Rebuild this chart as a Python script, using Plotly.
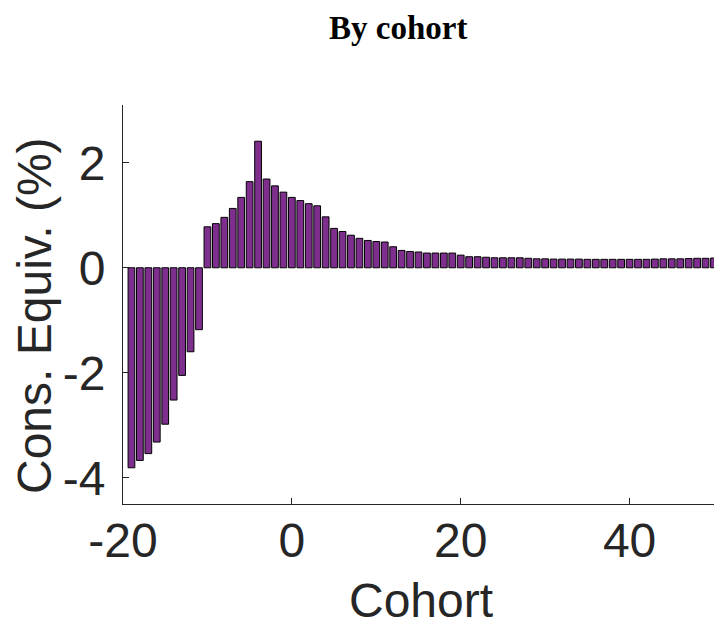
import plotly.graph_objects as go

cohorts = list(range(-19, 51))
cons_equiv = [
    -3.81, -3.67, -3.54, -3.32, -2.98, -2.52, -2.05, -1.60, -1.18,   # -19..-11
    0.78, 0.84, 0.96, 1.13, 1.34, 1.64, 2.41, 1.69, 1.56, 1.44,      # -10..-1
    1.34, 1.28, 1.22, 1.18, 0.97, 0.75, 0.69, 0.62, 0.56, 0.52,      # 0..9
    0.50, 0.49, 0.40, 0.33, 0.31, 0.30, 0.28, 0.28, 0.28, 0.28,      # 10..19
    0.24, 0.21, 0.21, 0.20, 0.19, 0.19, 0.19, 0.19, 0.18, 0.17,      # 20..29
    0.17, 0.165, 0.165, 0.165, 0.165, 0.16, 0.16, 0.16, 0.16, 0.16,  # 30..39
    0.16, 0.16, 0.16, 0.165, 0.17, 0.17, 0.17, 0.175, 0.18, 0.18,    # 40..49
    0.185,                                                           # 50
]
x_ticks = [-20, 0, 20, 40]
y_ticks = [-4, -2, 0, 2]

title_text = "By cohort"
x_label = "Cohort"
y_label = "Cons. Equiv. (%)"

W, H = 714, 628
L, R, T, B = 123, 0, 105, 124

fig = go.Figure(
    go.Bar(
        x=cohorts,
        y=cons_equiv,
        width=0.8,
        marker=dict(color="#7E2F8E", line=dict(color="#000000", width=1)),
    )
)

axis_color = "#262626"
pw, ph = W - L - R, H - T - B
fig.update_layout(
    width=W,
    height=H,
    margin=dict(l=L, r=R, t=T, b=B, pad=0),
    plot_bgcolor="white",
    paper_bgcolor="white",
    showlegend=False,
    font=dict(family="Liberation Sans, Arial, sans-serif", color=axis_color),
    xaxis=dict(
        range=[-20, 50],
        tickvals=x_ticks,
        ticktext=[str(v) for v in x_ticks],
        ticks="inside",
        ticklen=6,
        tickcolor=axis_color,
        showline=True,
        linecolor=axis_color,
        linewidth=1,
        showgrid=False,
        zeroline=False,
        ticklabelstandoff=-6,
        tickfont=dict(size=48, color=axis_color),
    ),
    yaxis=dict(
        range=[-4.5, 3.1],
        tickvals=y_ticks,
        ticktext=[str(v) for v in y_ticks],
        ticks="inside",
        ticklen=6,
        tickcolor=axis_color,
        showline=True,
        linecolor=axis_color,
        linewidth=1,
        showgrid=False,
        zeroline=False,
        ticklabelstandoff=7,
        tickfont=dict(size=48, color=axis_color),
    ),
    annotations=[
        dict(
            text="<b>" + title_text + "</b>",
            xref="paper", yref="paper",
            x=(398 - L) / pw, y=1 + (T - 28) / ph,
            xanchor="center", yanchor="middle",
            showarrow=False,
            font=dict(family="Liberation Serif, serif", size=33, color="#000000"),
        ),
        dict(
            text=x_label,
            xref="paper", yref="paper",
            x=(421 - L) / pw, y=-(600 - (H - B)) / ph,
            xanchor="center", yanchor="middle",
            showarrow=False,
            font=dict(size=48, color=axis_color),
        ),
        dict(
            text=y_label,
            xref="paper", yref="paper",
            x=-(L - 34) / pw, y=1 - (316 - T) / ph,
            xanchor="center", yanchor="middle",
            textangle=-90,
            showarrow=False,
            font=dict(size=48, color=axis_color),
        ),
    ],
)

fig.write_html(
    "out.html",
    config={"displayModeBar": False},
    post_script="document.body.style.margin='0';document.body.style.overflow='hidden';",
)
